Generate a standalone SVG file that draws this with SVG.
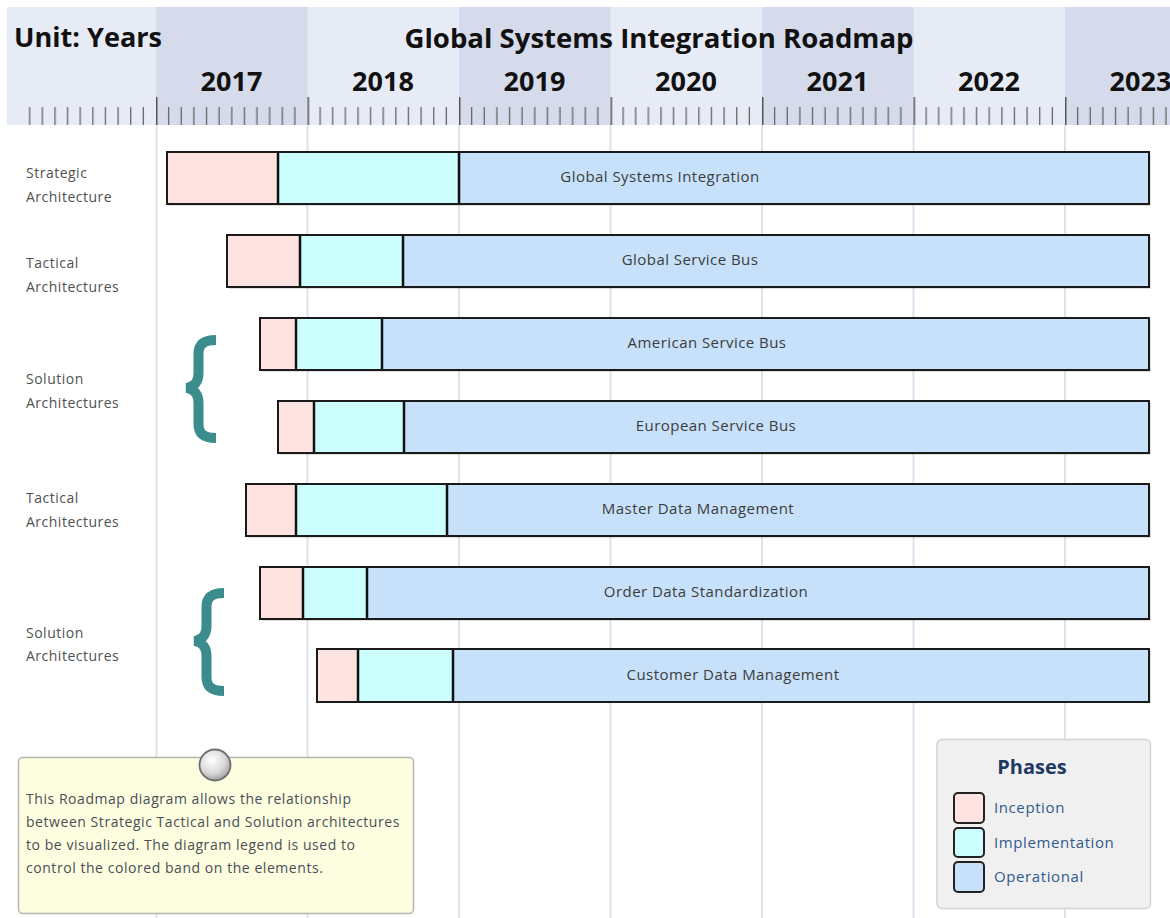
<svg xmlns="http://www.w3.org/2000/svg" width="1170" height="918" viewBox="0 0 1170 918">
<defs>
<pattern id="ticks" patternUnits="userSpaceOnUse" x="156" y="0" width="151.5" height="918">
<path d="M0.75 97V125" stroke="#555" stroke-width="1.5"/>
<path d="M12.625 107V125M25.25 107V125M37.875 107V125M50.5 107V125M63.125 107V125M75.75 107V125M88.375 107V125M101 107V125M113.625 107V125M126.25 107V125M138.875 107V125" stroke="#666" stroke-width="1.3"/>
</pattern>
<radialGradient id="knob" cx="0.4" cy="0.35" r="0.7">
<stop offset="0" stop-color="#ffffff"/>
<stop offset="0.6" stop-color="#d8d8d8"/>
<stop offset="1" stop-color="#9a9a9a"/>
</radialGradient>
<style>
.hdr{font-family:"Open Sans","Noto Sans","Liberation Sans",sans-serif;font-weight:bold;fill:#111;}
.yr{font-size:27px;text-anchor:middle;}
.grid{stroke:#dde2ee;stroke-width:2;}
.inc{fill:#fee3e1;}
.imp{fill:#ccfefe;}
.op{fill:#c7e1fa;}
.sep{stroke:#111;stroke-width:2.5;}
.frame{fill:none;stroke:#1a1a1a;stroke-width:2;}
.shadow{fill:#000;opacity:0.12;}
.blabel{font-family:"Open Sans","Noto Sans","Liberation Sans",sans-serif;font-size:15px;letter-spacing:0.45px;fill:#3c3c3c;text-anchor:middle;}
.lab{font-family:"Open Sans","Noto Sans","Liberation Sans",sans-serif;font-size:14px;letter-spacing:0.5px;fill:#505050;}
.brace{fill:none;stroke:#3a8d8c;stroke-width:10;}
.note{font-family:"Open Sans","Noto Sans","Liberation Sans",sans-serif;font-size:14px;letter-spacing:0.55px;fill:#4a4f55;}
.leg{font-family:"Open Sans","Noto Sans","Liberation Sans",sans-serif;font-size:15px;letter-spacing:0.6px;fill:#2f5b8c;}
.sw{stroke:#222;stroke-width:2;}
</style>
</defs>
<rect width="1170" height="918" fill="#ffffff"/>
<g id="header">
<rect x="7" y="7" width="1163" height="118" fill="#e7ebf5"/>
<rect x="156" y="7" width="151.5" height="118" fill="#d5dbeb"/>
<rect x="459" y="7" width="151.5" height="118" fill="#d5dbeb"/>
<rect x="762" y="7" width="151.5" height="118" fill="#d5dbeb"/>
<rect x="1065" y="7" width="105" height="118" fill="#d5dbeb"/>
<rect x="28" y="96" width="1142" height="30" fill="url(#ticks)"/>
<text class="hdr" x="14" y="47" font-size="26" textLength="148" lengthAdjust="spacingAndGlyphs">Unit: Years</text>
<text class="hdr" x="659" y="48" font-size="27" text-anchor="middle" textLength="509" lengthAdjust="spacingAndGlyphs">Global Systems Integration Roadmap</text>
<text class="hdr yr" x="231.5" y="91">2017</text>
<text class="hdr yr" x="383" y="91">2018</text>
<text class="hdr yr" x="534.5" y="91">2019</text>
<text class="hdr yr" x="686" y="91">2020</text>
<text class="hdr yr" x="837.5" y="91">2021</text>
<text class="hdr yr" x="989" y="91">2022</text>
<text class="hdr yr" x="1140.5" y="91">2023</text>
</g>
<g id="gridlines">
<path class="grid" d="M156.5 125V918M307.5 125V918M459 125V918M610.5 125V918M762 125V918M913.5 125V918M1065 125V918"/>
</g>
<g id="labels">
<text class="lab" x="26" y="178">Strategic</text>
<text class="lab" x="26" y="202">Architecture</text>
<text class="lab" x="26" y="268">Tactical</text>
<text class="lab" x="26" y="292">Architectures</text>
<text class="lab" x="26" y="384">Solution</text>
<text class="lab" x="26" y="408">Architectures</text>
<text class="lab" x="26" y="503">Tactical</text>
<text class="lab" x="26" y="527">Architectures</text>
<text class="lab" x="26" y="638">Solution</text>
<text class="lab" x="26" y="661">Architectures</text>
</g>
<g id="braces">
<path class="brace" d="M216 340C204 340 198.5 344 198.5 354L198.5 373C198.5 382 195 386 187 388C195 390 198.5 394 198.5 403L198.5 424C198.5 434 204 438 216 438"/>
<path class="brace" d="M224 593C212 593 206.5 597 206.5 607L206.5 626C206.5 635 203 639 195 641C203 643 206.5 647 206.5 656L206.5 677C206.5 687 212 691 224 691"/>
</g>
<g id="bar-global-systems-integration">
<rect class="shadow" x="169" y="154" width="982" height="52"/>
<rect class="inc" x="167" y="152" width="111" height="52"/>
<rect class="imp" x="278" y="152" width="181" height="52"/>
<rect class="op" x="459" y="152" width="690" height="52"/>
<path class="sep" d="M278 152V204M459 152V204"/>
<rect class="frame" x="167" y="152" width="982" height="52"/>
<text class="blabel" x="660" y="182">Global Systems Integration</text>
</g>
<g id="bar-global-service-bus">
<rect class="shadow" x="229" y="237" width="922" height="52"/>
<rect class="inc" x="227" y="235" width="73" height="52"/>
<rect class="imp" x="300" y="235" width="103" height="52"/>
<rect class="op" x="403" y="235" width="746" height="52"/>
<path class="sep" d="M300 235V287M403 235V287"/>
<rect class="frame" x="227" y="235" width="922" height="52"/>
<text class="blabel" x="690" y="265">Global Service Bus</text>
</g>
<g id="bar-american-service-bus">
<rect class="shadow" x="262" y="320" width="889" height="52"/>
<rect class="inc" x="260" y="318" width="36" height="52"/>
<rect class="imp" x="296" y="318" width="86" height="52"/>
<rect class="op" x="382" y="318" width="767" height="52"/>
<path class="sep" d="M296 318V370M382 318V370"/>
<rect class="frame" x="260" y="318" width="889" height="52"/>
<text class="blabel" x="707" y="348">American Service Bus</text>
</g>
<g id="bar-european-service-bus">
<rect class="shadow" x="280" y="403" width="871" height="52"/>
<rect class="inc" x="278" y="401" width="36" height="52"/>
<rect class="imp" x="314" y="401" width="90" height="52"/>
<rect class="op" x="404" y="401" width="745" height="52"/>
<path class="sep" d="M314 401V453M404 401V453"/>
<rect class="frame" x="278" y="401" width="871" height="52"/>
<text class="blabel" x="716" y="431">European Service Bus</text>
</g>
<g id="bar-master-data-management">
<rect class="shadow" x="248" y="486" width="903" height="52"/>
<rect class="inc" x="246" y="484" width="50" height="52"/>
<rect class="imp" x="296" y="484" width="151" height="52"/>
<rect class="op" x="447" y="484" width="702" height="52"/>
<path class="sep" d="M296 484V536M447 484V536"/>
<rect class="frame" x="246" y="484" width="903" height="52"/>
<text class="blabel" x="698" y="514">Master Data Management</text>
</g>
<g id="bar-order-data-standardization">
<rect class="shadow" x="262" y="569" width="889" height="52"/>
<rect class="inc" x="260" y="567" width="43" height="52"/>
<rect class="imp" x="303" y="567" width="64" height="52"/>
<rect class="op" x="367" y="567" width="782" height="52"/>
<path class="sep" d="M303 567V619M367 567V619"/>
<rect class="frame" x="260" y="567" width="889" height="52"/>
<text class="blabel" x="706" y="597">Order Data Standardization</text>
</g>
<g id="bar-customer-data-management">
<rect class="shadow" x="319" y="651" width="832" height="52"/>
<rect class="inc" x="317" y="649" width="41" height="53"/>
<rect class="imp" x="358" y="649" width="95" height="53"/>
<rect class="op" x="453" y="649" width="696" height="53"/>
<path class="sep" d="M358 649V702M453 649V702"/>
<rect class="frame" x="317" y="649" width="832" height="53"/>
<text class="blabel" x="733" y="680">Customer Data Management</text>
</g>
<g id="note">
<rect x="18.5" y="757.5" width="395" height="156" rx="4" fill="#fdfde0" stroke="#b5b5b0" stroke-width="1.5"/>
<circle cx="215" cy="765" r="15.5" fill="url(#knob)" stroke="#6e6e6e" stroke-width="1.8"/>
<text class="note" x="26" y="804">This Roadmap diagram allows the relationship</text>
<text class="note" x="26" y="827">between Strategic Tactical and Solution architectures</text>
<text class="note" x="26" y="850">to be visualized. The diagram legend is used to</text>
<text class="note" x="26" y="873">control the colored band on the elements.</text>
</g>
<g id="legend">
<rect x="937" y="739.5" width="213.5" height="169" rx="5" fill="#f0f0f0" stroke="#d2d2d2" stroke-width="1.5"/>
<text x="1032" y="774" text-anchor="middle" font-family="'Open Sans','Noto Sans','Liberation Sans',sans-serif" font-size="20" font-weight="bold" fill="#1f3864">Phases</text>
<rect class="sw inc" x="954" y="793" width="30" height="30" rx="4"/>
<rect class="sw imp" x="954" y="828" width="30" height="29" rx="4"/>
<rect class="sw op" x="954" y="862" width="30" height="30" rx="4"/>
<text class="leg" x="994" y="813">Inception</text>
<text class="leg" x="994" y="848">Implementation</text>
<text class="leg" x="994" y="882">Operational</text>
</g>
</svg>
